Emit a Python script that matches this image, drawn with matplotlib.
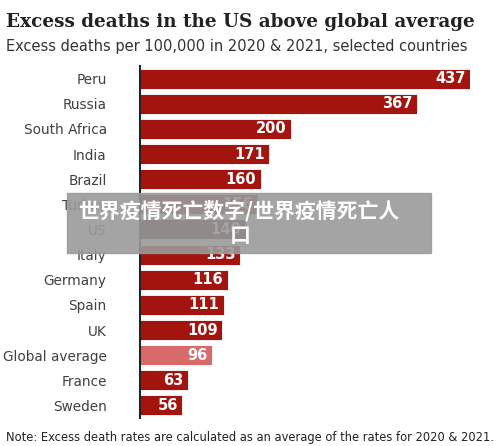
import matplotlib
matplotlib.use("Agg")
import matplotlib.pyplot as plt

countries = ["Peru", "Russia", "South Africa", "India", "Brazil", "Turkey", "US",
             "Italy", "Germany", "Spain", "UK", "Global average", "France", "Sweden"]
deaths = [437, 367, 200, 171, 160, 156, 140, 133, 116, 111, 109, 96, 63, 56]

RED = "#a3140f"
colors = []
for c in countries:
    if c == "US":
        colors.append("#4a0000")
    elif c == "Global average":
        colors.append("#d96a6a")
    else:
        colors.append(RED)

plt.rcParams["font.family"] = ["DejaVu Sans"]
fig = plt.figure(figsize=(5, 4.46), dpi=100)
# axes: x from 140 to 470 px => value 0..437
ax = fig.add_axes([140 / 500, 1 - 418 / 446, 330 / 500, (418 - 66) / 446])
y = list(range(len(countries)))
ax.barh(y, deaths, height=0.8, color=colors, edgecolor="white", linewidth=0.6)
ax.set_xlim(0, 437)
ax.set_ylim(len(countries) - 0.5, -0.5)
ax.set_yticks(y)
ax.set_yticklabels(countries, fontsize=9.8, color="#404040")
ax.tick_params(axis="y", length=0, pad=24)
ax.set_xticks([])
for s in ["top", "right", "bottom"]:
    ax.spines[s].set_visible(False)
ax.spines["left"].set_linewidth(1.5)
ax.spines["left"].set_color("#222222")
for yi, v in zip(y, deaths):
    ax.text(v - 6, yi, str(v), ha="right", va="center", color="white",
            fontsize=10.5, fontweight="bold")

fig.text(0.012, 1 - 22 / 446, "Excess deaths in the US above global average",
         fontsize=13.2, fontweight="bold", color="#222222", va="center",
         family="DejaVu Serif")
fig.text(0.012, 1 - 47 / 446, "Excess deaths per 100,000 in 2020 & 2021, selected countries",
         fontsize=10.5, color="#333333", va="center")
fig.text(0.012, 1 - 438 / 446, "Note: Excess death rates are calculated as an average of the rates for 2020 & 2021.",
         fontsize=8.3, color="#222222", va="center")

# watermark overlay
fig.patches.append(plt.Rectangle((67 / 500, 1 - 253 / 446), 364 / 500, 60 / 446,
                                 transform=fig.transFigure, color="#9a9a9a", alpha=0.9))
fig.text(78 / 500, 1 - 211 / 446, "世界疫情死亡数字/世界疫情死亡人", fontsize=15,
         fontweight="bold", color="white", va="center",
         family=["Noto Sans CJK SC", "DejaVu Sans"])
fig.text(240 / 500, 1 - 236 / 446, "口", fontsize=15, fontweight="bold", color="white",
         va="center", ha="center", family=["Noto Sans CJK SC", "DejaVu Sans"])

fig.savefig("out.png", dpi=100, facecolor="white")
